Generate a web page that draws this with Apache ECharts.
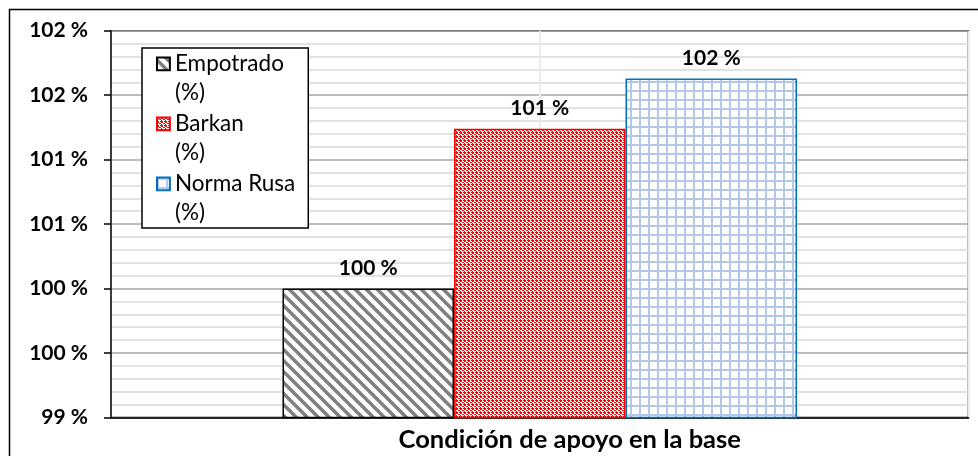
<!DOCTYPE html>
<html>
<head>
<meta charset="utf-8">
<script src="https://cdn.jsdelivr.net/npm/echarts@6/dist/echarts.min.js"></script>
<style>
html,body{margin:0;padding:0;background:#fff;}
#chart{width:978px;height:456px;}
</style>
</head>
<body>
<div id="chart"></div>
<script>
// ---- data ----
var categories = [''];
var seriesNames = ['Empotrado (%)', 'Barkan (%)', 'Norma Rusa (%)'];
var empotradoValues = [100.0];
var barkanValues = [101.24];
var normaRusaValues = [101.63];
var yMin = 99, yMax = 102, yStep = 0.5;
var xAxisTitle = 'Condición de apoyo en la base';

// ---- patterns ----
function makeTile(w, h, draw) {
  var c = document.createElement('canvas');
  c.width = w; c.height = h;
  var ctx = c.getContext('2d');
  draw(ctx, w, h);
  return { image: c, repeat: 'repeat' };
}
var stripePattern = makeTile(11, 11, function (ctx, w, h) {
  ctx.fillStyle = '#ffffff'; ctx.fillRect(0, 0, w, h);
  ctx.strokeStyle = '#808080'; ctx.lineWidth = 3.5;
  for (var k = -1; k <= 1; k++) {
    ctx.beginPath();
    ctx.moveTo(k * w - 2, -2);
    ctx.lineTo(k * w + w + 2, h + 2);
    ctx.stroke();
  }
});
var dotPattern = makeTile(4, 4, function (ctx, w, h) {
  ctx.fillStyle = '#ffffff'; ctx.fillRect(0, 0, w, h);
  ctx.fillStyle = '#ff0000';
  ctx.fillRect(0, 0, 2, 2);
  ctx.fillRect(2, 2, 2, 1);
  ctx.fillRect(0, 3, 1, 1);
  ctx.fillRect(3, 0, 1, 1);
});
var gridPattern = makeTile(9, 9, function (ctx, w, h) {
  ctx.fillStyle = '#ffffff'; ctx.fillRect(0, 0, w, h);
  ctx.fillStyle = '#b4c7e7';
  ctx.fillRect(0, 0, w, 2);
  ctx.fillRect(0, 0, 2, h);
});

var patterns = [stripePattern, dotPattern, gridPattern];
var borders = ['#000000', '#ff0000', '#0070c0'];
var valueLists = [empotradoValues, barkanValues, normaRusaValues];

var FONT = 'Lato, "Open Sans", sans-serif';
var legendIcon = 'path://M0,0L0,0 M0,8.5L13,8.5L13,21.5L0,21.5Z M13,58.5L13,58.5';

var series = seriesNames.map(function (name, i) {
  return {
    name: name,
    type: 'bar',
    data: valueLists[i],
    barGap: '0%',
    barCategoryGap: '40%',
    itemStyle: { color: patterns[i], borderColor: borders[i], borderWidth: 1.5 },
    label: {
      show: true,
      position: 'top',
      distance: 10,
      formatter: function (p) { return Math.round(p.value) + ' %'; },
      fontFamily: FONT, fontWeight: 'bold', fontSize: 21, color: '#000'
    }
  };
});

var chart = echarts.init(document.getElementById('chart'), null, { renderer: 'canvas' });
chart.setOption({
  animation: false,
  backgroundColor: '#ffffff',
  grid: { left: 111, right: 9.5, top: 30.7, bottom: 38.5, outerBoundsMode: 'none', containLabel: false, show: true, borderColor: '#000', borderWidth: 1.5, backgroundColor: 'transparent' },
  legend: {
    orient: 'vertical',
    left: 142, top: 48,
    padding: [0, 13, 0, 14],
    itemGap: 0,
    itemWidth: 13, itemHeight: 58,
    backgroundColor: '#ffffff',
    borderColor: '#000', borderWidth: 1.5, borderRadius: 0,
    icon: legendIcon,
    data: seriesNames.map(function (n) { return { name: n, icon: legendIcon }; }),
    formatter: function (n) { return n.replace(' (%)', '\n(%)'); },
    textStyle: { fontFamily: FONT, fontSize: 22.5, lineHeight: 29, color: '#000' }
  },
  xAxis: [{
    type: 'category',
    data: categories,
    axisLine: { lineStyle: { color: '#000', width: 1.5 } },
    axisTick: { show: false },
    axisLabel: { show: false },
    name: xAxisTitle,
    nameLocation: 'middle',
    nameGap: 9,
    nameTextStyle: { fontFamily: FONT, fontWeight: 'bold', fontSize: 25.5, color: '#000', padding: [0, 0, 0, 60] }
  }, {
    type: 'value',
    min: 0, max: 2, interval: 1,
    position: 'top',
    axisLine: { show: false }, axisTick: { show: false }, axisLabel: { show: false },
    splitLine: { show: true, lineStyle: { color: '#ececec', width: 2 } }
  }],
  yAxis: {
    type: 'value',
    min: yMin, max: yMax, interval: yStep,
    axisLine: { show: true, lineStyle: { color: '#000', width: 1.5 } },
    axisTick: { show: true, length: 7, lineStyle: { color: '#000', width: 1.5 } },
    axisLabel: {
      margin: 23,
      formatter: function (v) { return Math.round(v) + ' %'; },
      fontFamily: FONT, fontWeight: 'bold', fontSize: 21, color: '#000'
    },
    splitLine: { show: true, lineStyle: { color: '#a6a6a6', width: 1.5 } },
    minorTick: { show: false, splitNumber: 5 },
    minorSplitLine: { show: true, lineStyle: { color: '#d9d9d9', width: 1.5 } }
  },
  graphic: [{
    type: 'rect',
    left: 7, top: 7,
    shape: { x: 0, y: 0, width: 1000, height: 500 },
    style: { fill: 'none', stroke: '#000', lineWidth: 1.5 },
    silent: true, z: -1
  }],
  series: series
});
</script>
</body>
</html>
